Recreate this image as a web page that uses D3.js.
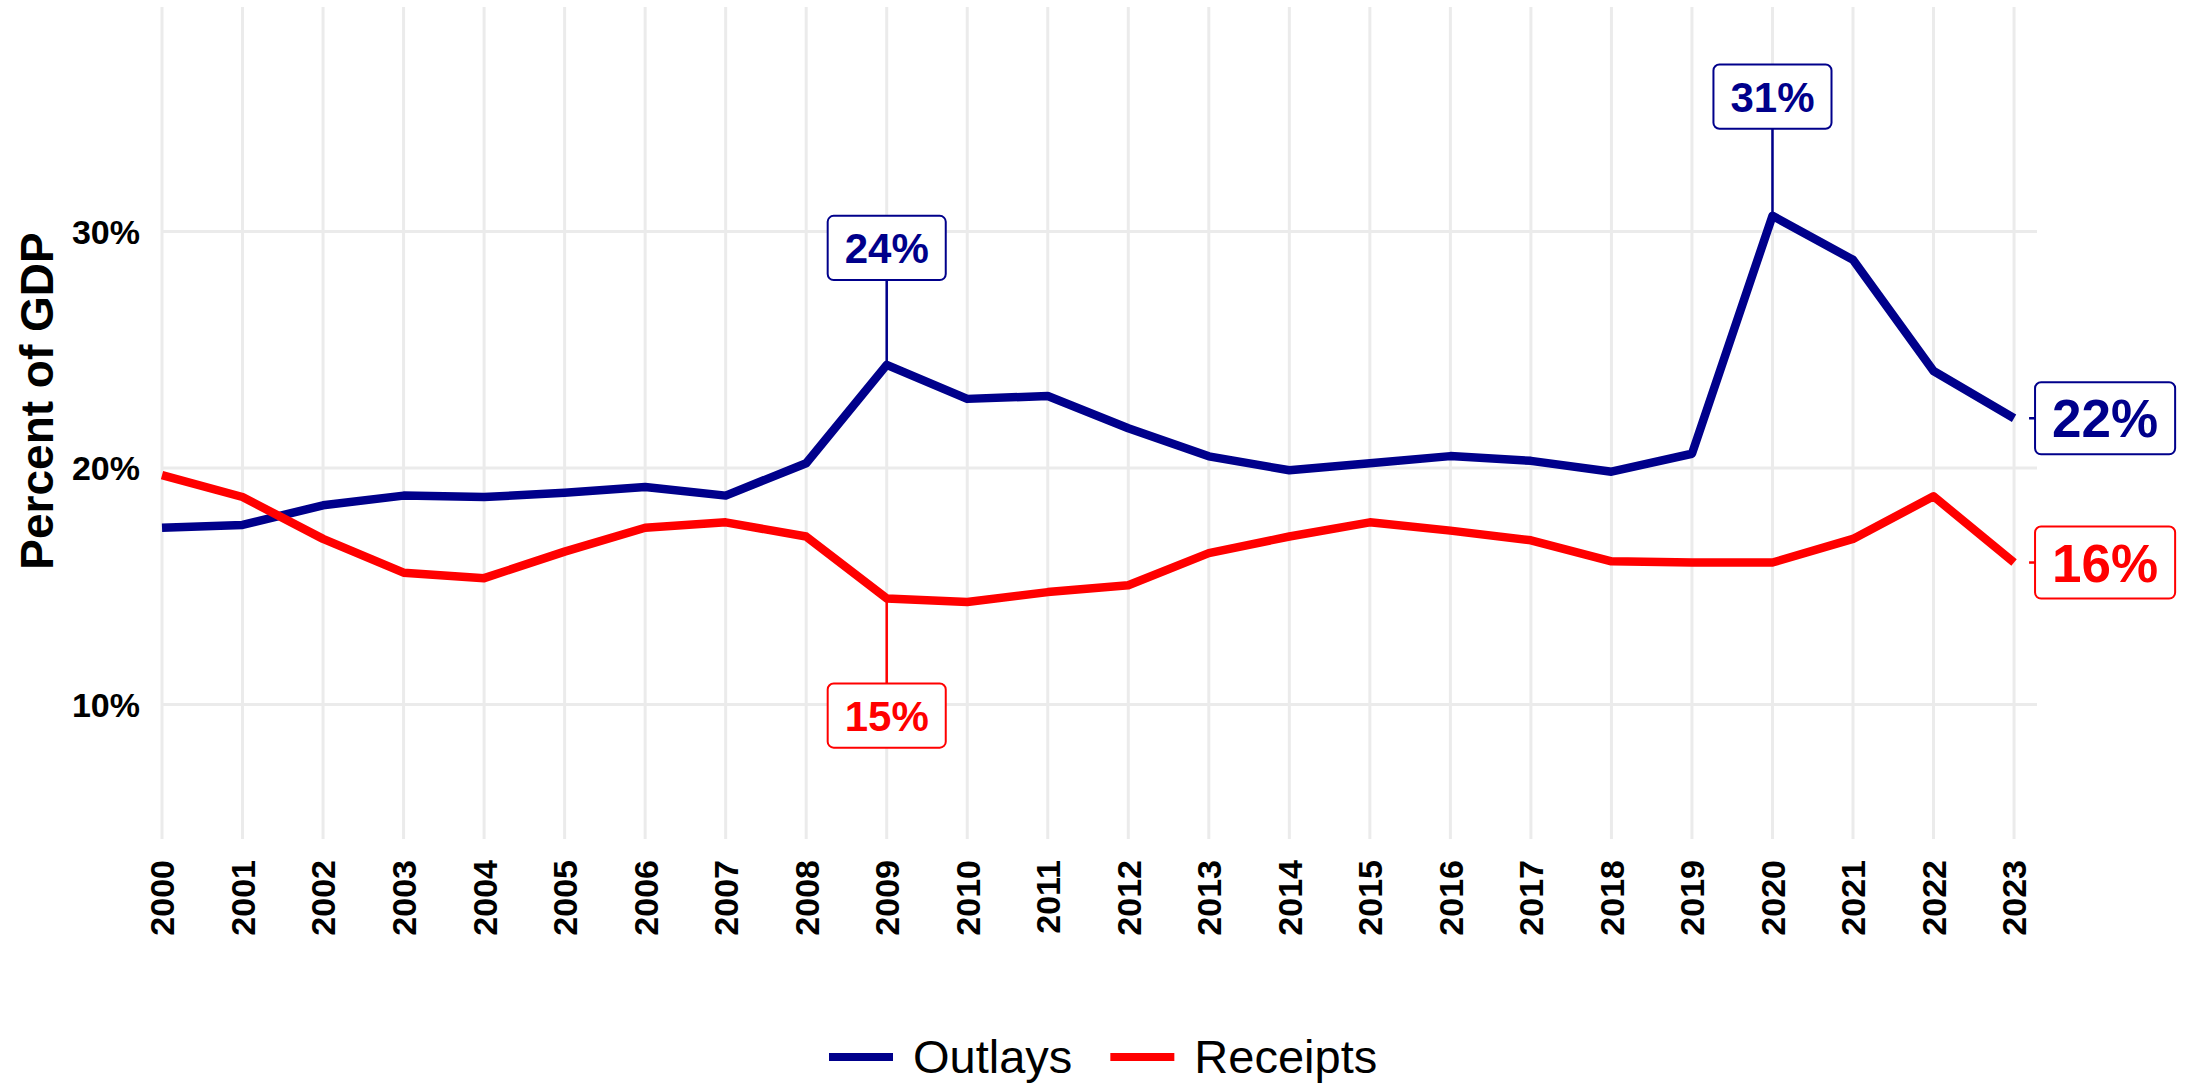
<!DOCTYPE html>
<html>
<head>
<meta charset="utf-8">
<script src="https://cdn.jsdelivr.net/npm/d3@7"></script>
<style>
  body { margin: 0; background: #fff; }
  text { font-family: "Liberation Sans", Arial, sans-serif; }
</style>
</head>
<body>
<script>
// data
const years = d3.range(2000, 2024);
const outlays = [17.47, 17.59, 18.42, 18.83, 18.77, 18.95, 19.19, 18.83, 20.2, 24.36, 22.92, 23.04,
                 21.68, 20.49, 19.9, 20.2, 20.5, 20.3, 19.84, 20.6, 30.66, 28.8, 24.1, 22.1];
const receipts = [19.7, 18.77, 17.0, 15.57, 15.34, 16.46, 17.47, 17.7, 17.1, 14.48, 14.33, 14.75,
                  15.04, 16.4, 17.1, 17.7, 17.35, 16.94, 16.05, 16.0, 16.0, 17.0, 18.8, 16.0];
const yTicks = [10, 20, 30];
const seriesNames = ["Outlays", "Receipts"];
const seriesColors = ["#00008B", "#FF0000"];
// callout labels: series index, year, label text, label centre (in % of GDP)
const callouts = [
    { s: 0, year: 2009, text: "24%", labelY: 29.3 },
    { s: 1, year: 2009, text: "15%", labelY: 9.53 },
    { s: 0, year: 2020, text: "31%", labelY: 35.7 }
];

const width = 2195;
const height = 1083;
const panel = { left: 162, right: 2037, top: 7, bottom: 839 };

const svg = d3.select("body")
    .append("svg")
    .attr("width", width)
    .attr("height", height)
    .style("background", "#fff");

const x = d3.scaleLinear()
    .domain([2000, 2023.285])
    .range([panel.left, panel.right]);

const y = d3.scaleLinear()
    .domain([4.31, 39.49])
    .range([panel.bottom, panel.top]);

// grid
const grid = svg.append("g");
grid.selectAll("line.v")
    .data(years)
    .enter()
    .append("line")
    .attr("x1", d => x(d)).attr("x2", d => x(d))
    .attr("y1", panel.top).attr("y2", panel.bottom)
    .attr("stroke", "#EBEBEB")
    .attr("stroke-width", 3);
grid.selectAll("line.h")
    .data(yTicks)
    .enter()
    .append("line")
    .attr("x1", panel.left).attr("x2", panel.right)
    .attr("y1", d => y(d)).attr("y2", d => y(d))
    .attr("stroke", "#EBEBEB")
    .attr("stroke-width", 3);

// y axis
const yAxis = svg.append("g")
    .attr("transform", `translate(${panel.left - 22},0)`)
    .call(d3.axisLeft(y).tickValues(yTicks).tickSize(0).tickPadding(0).tickFormat(d => d + "%"));
yAxis.select(".domain").remove();
yAxis.selectAll("text")
    .attr("font-size", 34)
    .attr("font-weight", "bold")
    .attr("fill", "#000")
    .attr("dy", "0.35em")
    .style("font-family", "'Liberation Sans', Arial, sans-serif");

// x axis
const xAxis = svg.append("g")
    .attr("transform", `translate(0,${panel.bottom + 21})`)
    .call(d3.axisBottom(x).tickValues(years).tickSize(0).tickPadding(0).tickFormat(d3.format("d")));
xAxis.select(".domain").remove();
xAxis.selectAll("text")
    .attr("font-size", 34)
    .attr("font-weight", "bold")
    .attr("fill", "#000")
    .attr("text-anchor", "end")
    .attr("transform", "rotate(-90)")
    .attr("x", 0)
    .attr("y", 0)
    .attr("dy", "0.35em")
    .style("font-family", "'Liberation Sans', Arial, sans-serif");

// y title
svg.append("text")
    .attr("transform", `translate(53,${(panel.top + panel.bottom) / 2 - 22}) rotate(-90)`)
    .attr("text-anchor", "middle")
    .attr("font-size", 46)
    .attr("font-weight", "bold")
    .text("Percent of GDP");

// lines
const line = d3.line()
    .x((d, i) => x(years[i]))
    .y(d => y(d));

[outlays, receipts].forEach((vals, s) => {
    svg.append("path")
        .datum(vals)
        .attr("fill", "none")
        .attr("stroke", seriesColors[s])
        .attr("stroke-width", 8.5)
        .attr("stroke-linejoin", "round")
        .attr("d", line);
});

function drawLabel(cx, cy, text, color, fs, anchorLeft) {
    const g = svg.append("g");
    const t = g.append("text")
        .attr("font-size", fs)
        .attr("font-weight", "bold")
        .attr("fill", color)
        .attr("text-anchor", "middle")
        .text(text);
    const tw = t.node().getBBox().width;
    const pad = 17;
    const capH = fs * 0.72;
    const w = tw + 2 * pad;
    const h = capH + 2 * pad;
    const left = anchorLeft ? cx : cx - w / 2;
    g.insert("rect", "text")
        .attr("x", left).attr("y", cy - h / 2)
        .attr("width", w).attr("height", h)
        .attr("rx", 6).attr("ry", 6)
        .attr("fill", "#fff")
        .attr("stroke", color)
        .attr("stroke-width", 2);
    t.attr("x", left + w / 2).attr("y", cy + capH / 2);
    return { top: cy - h / 2, bottom: cy + h / 2, left: left };
}

// callouts with connectors
callouts.forEach(c => {
    const vals = c.s === 0 ? outlays : receipts;
    const v = vals[years.indexOf(c.year)];
    const px = x(c.year), py = y(v);
    const conn = svg.append("line")
        .attr("stroke", seriesColors[c.s])
        .attr("stroke-width", 2.5);
    const box = drawLabel(px, y(c.labelY), c.text, seriesColors[c.s], 42, false);
    const edge = c.labelY > v ? box.bottom : box.top;
    conn.attr("x1", px).attr("x2", px).attr("y1", py).attr("y2", edge);
});

// end labels
[outlays, receipts].forEach((vals, s) => {
    const v = vals[vals.length - 1];
    const py = y(v);
    const lx = x(2023) + 21;
    svg.append("line")
        .attr("x1", lx - 6).attr("x2", lx)
        .attr("y1", py).attr("y2", py)
        .attr("stroke", seriesColors[s])
        .attr("stroke-width", 2.5);
    drawLabel(lx, py, Math.round(v) + "%", seriesColors[s], 53, true);
});

// legend
const legend = svg.append("g").attr("transform", "translate(0,1057)");
let lx = 829;
seriesNames.forEach((name, s) => {
    legend.append("line")
        .attr("x1", lx).attr("x2", lx + 64)
        .attr("y1", 0).attr("y2", 0)
        .attr("stroke", seriesColors[s])
        .attr("stroke-width", 8);
    const t = legend.append("text")
        .attr("x", lx + 84)
        .attr("y", 0)
        .attr("dy", "0.35em")
        .attr("font-size", 47)
        .attr("fill", "#000")
        .text(name);
    lx += 84 + t.node().getBBox().width + 38;
});
</script>
</body>
</html>
